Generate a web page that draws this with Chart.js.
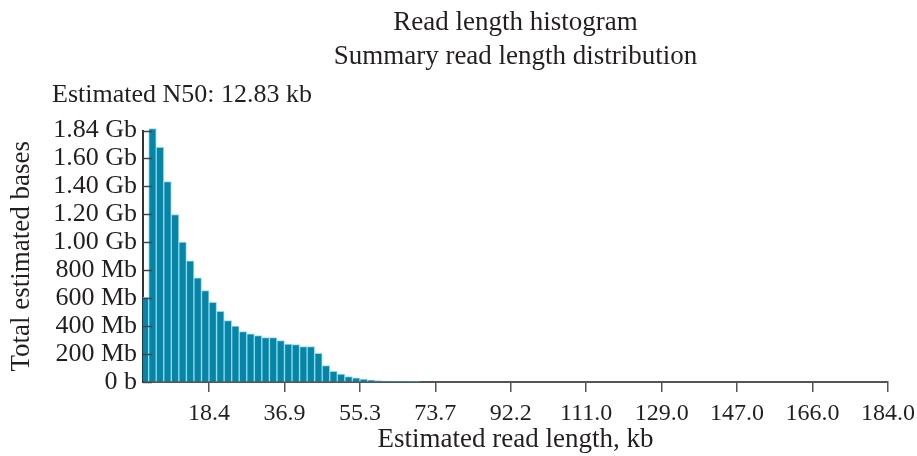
<!DOCTYPE html>
<html>
<head>
<meta charset="utf-8">
<script src="https://cdn.jsdelivr.net/npm/chart.js"></script>
<style>
  html, body { margin: 0; padding: 0; background: #fff; }
  #wrap { width: 917px; height: 456px; }
</style>
</head>
<body>
<div id="wrap"><canvas id="myChart"></canvas></div>
<script>
// bin midpoints, kb (bins are 1.843 kb wide)
const binMids = [2.76, 4.61, 6.45, 8.29, 10.14, 11.98, 13.82, 15.67, 17.51, 19.35,
  21.20, 23.04, 24.88, 26.73, 28.57, 30.41, 32.25, 34.10, 35.94, 37.78,
  39.63, 41.47, 43.31, 45.16, 47.00, 48.84, 50.69, 52.53, 54.37, 56.22,
  58.06, 59.90, 61.75, 63.59, 65.43, 67.28, 69.12];
// total bases per bin, Mb
const basesMb = [606, 1814, 1680, 1434, 1199, 1001, 867, 746, 654, 571,
  506, 439, 401, 361, 345, 332, 318, 318, 296, 272,
  267, 253, 253, 205, 117, 76, 57, 38, 29, 21,
  14, 9, 7, 6, 5, 5, 4];
const xTickValues = [18.43, 36.86, 55.29, 73.72, 92.15, 110.58, 129.01, 147.44, 165.87, 184.3];
const xTickLabels = ['18.4', '36.9', '55.3', '73.7', '92.2', '111.0', '129.0', '147.0', '166.0', '184.0'];
const yTickValues = [0, 200, 400, 600, 800, 1000, 1200, 1400, 1600, 1800];
const yTickLabels = ['0 b', '200 Mb', '400 Mb', '600 Mb', '800 Mb', '1.00 Gb', '1.20 Gb', '1.40 Gb', '1.60 Gb', '1.84 Gb'];

const FONT = "'Liberation Serif', 'DejaVu Serif', serif";
const INK = '#231f20';

const extras = {
  id: 'extras',
  afterDraw(chart) {
    const ctx = chart.ctx, a = chart.chartArea, y = chart.scales.y;
    ctx.save();
    // y ticks point inward
    ctx.strokeStyle = '#444';
    ctx.lineWidth = 1.5;
    y.ticks.forEach(t => {
      const py = Math.round(y.getPixelForValue(t.value)) + 0.5;
      ctx.beginPath();
      ctx.moveTo(a.left, py);
      ctx.lineTo(a.left + 9, py);
      ctx.stroke();
    });
    ctx.fillStyle = INK;
    ctx.font = '26px ' + FONT;
    ctx.textBaseline = 'middle';
    ctx.textAlign = 'left';
    ctx.fillText('Estimated N50: 12.83 kb', 52, 95);
    ctx.restore();
  }
};

new Chart(document.getElementById('myChart'), {
  type: 'bar',
  data: {
    datasets: [{
      data: binMids.map((x, i) => ({ x: x, y: basesMb[i] })),
      backgroundColor: '#0884a6',
      borderColor: '#8cdcee',
      borderWidth: 1,
      barPercentage: 1,
      categoryPercentage: 1,
      clip: { left: 0, top: 6, right: 0, bottom: 0 }
    }]
  },
  options: {
    responsive: true,
    maintainAspectRatio: false,
    animation: false,
    layout: { padding: { left: 0, right: 29, top: 0, bottom: 0 } },
    plugins: {
      legend: { display: false },
      tooltip: { enabled: false },
      title: {
        display: true,
        fullSize: false,
        text: ['Read length histogram', 'Summary read length distribution'],
        color: INK,
        font: { family: FONT, size: 27, weight: 'normal', lineHeight: 1.25 },
        padding: { top: 6, bottom: 57 }
      }
    },
    scales: {
      x: {
        type: 'linear',
        min: 2.3,
        max: 184.3,
        offset: false,
        afterBuildTicks: s => { s.ticks = xTickValues.map(v => ({ value: v })); },
        afterFit: s => { s.height = 74; s.paddingLeft = 0; s.paddingRight = 0; },
        ticks: {
          autoSkip: false,
          maxRotation: 0,
          padding: 7,
          color: INK,
          font: { family: FONT, size: 24 },
          callback: (v, i) => xTickLabels[i]
        },
        grid: { offset: false, drawOnChartArea: false, drawTicks: true, tickLength: 10, color: '#555', lineWidth: 1.5 },
        border: { display: true, color: '#555', width: 2 },
        title: {
          display: true,
          text: 'Estimated read length, kb',
          color: INK,
          font: { family: FONT, size: 27 },
          padding: { top: 0, bottom: 0 }
        }
      },
      y: {
        min: 0,
        max: 1800,
        afterBuildTicks: s => { s.ticks = yTickValues.map(v => ({ value: v })); },
        afterFit: s => { s.width = 143; },
        ticks: {
          autoSkip: false,
          padding: 6,
          color: INK,
          font: { family: FONT, size: 26 },
          callback: (v, i) => yTickLabels[i]
        },
        grid: { drawOnChartArea: false, drawTicks: false },
        border: { display: true, color: '#333', width: 2 },
        title: {
          display: true,
          text: 'Total estimated bases',
          color: INK,
          font: { family: FONT, size: 27 },
          padding: { top: 6, bottom: 0 }
        }
      }
    }
  },
  plugins: [extras]
});
</script>
</body>
</html>
